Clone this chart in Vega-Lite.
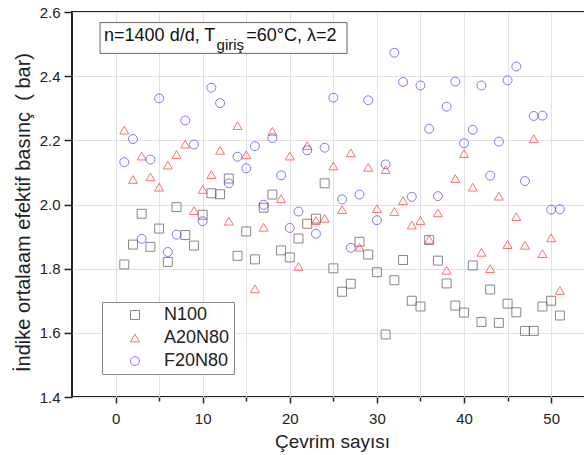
{
  "$schema": "https://vega.github.io/schema/vega-lite/v6.json",
  "autosize": "none",
  "padding": {"left": 72, "top": 12, "right": 0, "bottom": 58},
  "width": 514,
  "height": 385,
  "background": "white",
  "config": {
    "font": "Liberation Sans",
    "view": {"stroke": "#222222", "strokeWidth": 2},
    "axis": {"domain": false, "grid": true, "gridColor": "#e2e2e2", "gridWidth": 1, "tickColor": "#222222", "tickWidth": 1.5, "labelColor": "#222222", "titleColor": "#222222", "labelFont": "Liberation Sans", "titleFont": "Liberation Sans", "titleFontWeight": "normal"},
    "legend": {"orient": "none", "legendX": 30, "legendY": 290, "strokeColor": "#888888", "fillColor": "white", "padding": 4, "labelFontSize": 18, "labelFont": "Liberation Sans", "labelColor": "#222222", "symbolOffset": 20, "labelOffset": 20, "rowPadding": 5, "symbolSize": 80, "symbolStrokeWidth": 1}
  },
  "datasets": {
    "pts": [
      {"cycle":1,"series":"N100","value":1.813},{"cycle":2,"series":"N100","value":1.875},{"cycle":3,"series":"N100","value":1.971},{"cycle":4,"series":"N100","value":1.868},{"cycle":5,"series":"N100","value":1.925},{"cycle":6,"series":"N100","value":1.821},{"cycle":7,"series":"N100","value":1.992},{"cycle":8,"series":"N100","value":1.905},{"cycle":9,"series":"N100","value":1.872},{"cycle":10,"series":"N100","value":1.968},
      {"cycle":11,"series":"N100","value":2.035},{"cycle":12,"series":"N100","value":2.032},{"cycle":13,"series":"N100","value":2.081},{"cycle":14,"series":"N100","value":1.840},{"cycle":15,"series":"N100","value":1.916},{"cycle":16,"series":"N100","value":1.829},{"cycle":17,"series":"N100","value":1.990},{"cycle":18,"series":"N100","value":2.031},{"cycle":19,"series":"N100","value":1.857},{"cycle":20,"series":"N100","value":1.835},
      {"cycle":21,"series":"N100","value":1.894},{"cycle":22,"series":"N100","value":1.940},{"cycle":23,"series":"N100","value":1.956},{"cycle":24,"series":"N100","value":2.066},{"cycle":25,"series":"N100","value":1.801},{"cycle":26,"series":"N100","value":1.728},{"cycle":27,"series":"N100","value":1.753},{"cycle":28,"series":"N100","value":1.884},{"cycle":29,"series":"N100","value":1.844},{"cycle":30,"series":"N100","value":1.789},
      {"cycle":31,"series":"N100","value":1.595},{"cycle":32,"series":"N100","value":1.764},{"cycle":33,"series":"N100","value":1.827},{"cycle":34,"series":"N100","value":1.700},{"cycle":35,"series":"N100","value":1.682},{"cycle":36,"series":"N100","value":1.889},{"cycle":37,"series":"N100","value":1.825},{"cycle":38,"series":"N100","value":1.754},{"cycle":39,"series":"N100","value":1.685},{"cycle":40,"series":"N100","value":1.663},
      {"cycle":41,"series":"N100","value":1.810},{"cycle":42,"series":"N100","value":1.634},{"cycle":43,"series":"N100","value":1.735},{"cycle":44,"series":"N100","value":1.631},{"cycle":45,"series":"N100","value":1.691},{"cycle":46,"series":"N100","value":1.664},{"cycle":47,"series":"N100","value":1.606},{"cycle":48,"series":"N100","value":1.606},{"cycle":49,"series":"N100","value":1.682},{"cycle":50,"series":"N100","value":1.700},{"cycle":51,"series":"N100","value":1.654},
      {"cycle":1,"series":"A20N80","value":2.232},{"cycle":2,"series":"A20N80","value":2.078},{"cycle":3,"series":"A20N80","value":2.151},{"cycle":4,"series":"A20N80","value":2.086},{"cycle":5,"series":"A20N80","value":2.054},{"cycle":6,"series":"A20N80","value":2.123},{"cycle":7,"series":"A20N80","value":2.156},{"cycle":8,"series":"A20N80","value":2.188},{"cycle":9,"series":"A20N80","value":1.981},{"cycle":10,"series":"A20N80","value":2.047},
      {"cycle":11,"series":"A20N80","value":2.093},{"cycle":12,"series":"A20N80","value":2.169},{"cycle":13,"series":"A20N80","value":1.948},{"cycle":14,"series":"A20N80","value":2.246},{"cycle":15,"series":"A20N80","value":2.155},{"cycle":16,"series":"A20N80","value":1.737},{"cycle":17,"series":"A20N80","value":1.929},{"cycle":18,"series":"A20N80","value":2.228},{"cycle":19,"series":"A20N80","value":2.018},{"cycle":20,"series":"A20N80","value":2.151},
      {"cycle":21,"series":"A20N80","value":1.807},{"cycle":22,"series":"A20N80","value":2.184},{"cycle":23,"series":"A20N80","value":1.950},{"cycle":24,"series":"A20N80","value":1.957},{"cycle":25,"series":"A20N80","value":2.120},{"cycle":26,"series":"A20N80","value":1.984},{"cycle":27,"series":"A20N80","value":2.161},{"cycle":28,"series":"A20N80","value":1.867},{"cycle":29,"series":"A20N80","value":2.116},{"cycle":30,"series":"A20N80","value":1.987},
      {"cycle":31,"series":"A20N80","value":2.109},{"cycle":32,"series":"A20N80","value":1.978},{"cycle":33,"series":"A20N80","value":2.012},{"cycle":34,"series":"A20N80","value":1.936},{"cycle":35,"series":"A20N80","value":1.950},{"cycle":36,"series":"A20N80","value":1.891},{"cycle":37,"series":"A20N80","value":1.974},{"cycle":38,"series":"A20N80","value":1.795},{"cycle":39,"series":"A20N80","value":2.081},{"cycle":40,"series":"A20N80","value":2.159},
      {"cycle":41,"series":"A20N80","value":2.054},{"cycle":42,"series":"A20N80","value":1.851},{"cycle":43,"series":"A20N80","value":1.800},{"cycle":44,"series":"A20N80","value":2.026},{"cycle":45,"series":"A20N80","value":1.875},{"cycle":46,"series":"A20N80","value":1.962},{"cycle":47,"series":"A20N80","value":1.873},{"cycle":48,"series":"A20N80","value":2.205},{"cycle":49,"series":"A20N80","value":1.847},{"cycle":50,"series":"A20N80","value":1.896},{"cycle":51,"series":"A20N80","value":1.732},
      {"cycle":1,"series":"F20N80","value":2.132},{"cycle":2,"series":"F20N80","value":2.204},{"cycle":3,"series":"F20N80","value":1.893},{"cycle":4,"series":"F20N80","value":2.140},{"cycle":5,"series":"F20N80","value":2.331},{"cycle":6,"series":"F20N80","value":1.852},{"cycle":7,"series":"F20N80","value":1.906},{"cycle":8,"series":"F20N80","value":2.262},{"cycle":9,"series":"F20N80","value":2.187},{"cycle":10,"series":"F20N80","value":1.948},
      {"cycle":11,"series":"F20N80","value":2.364},{"cycle":12,"series":"F20N80","value":2.316},{"cycle":13,"series":"F20N80","value":2.066},{"cycle":14,"series":"F20N80","value":2.149},{"cycle":15,"series":"F20N80","value":2.113},{"cycle":16,"series":"F20N80","value":2.182},{"cycle":17,"series":"F20N80","value":1.999},{"cycle":18,"series":"F20N80","value":2.207},{"cycle":19,"series":"F20N80","value":2.091},{"cycle":20,"series":"F20N80","value":1.927},
      {"cycle":21,"series":"F20N80","value":1.978},{"cycle":22,"series":"F20N80","value":2.169},{"cycle":23,"series":"F20N80","value":1.909},{"cycle":24,"series":"F20N80","value":2.177},{"cycle":25,"series":"F20N80","value":2.333},{"cycle":26,"series":"F20N80","value":2.016},{"cycle":27,"series":"F20N80","value":1.865},{"cycle":28,"series":"F20N80","value":2.031},{"cycle":29,"series":"F20N80","value":2.325},{"cycle":30,"series":"F20N80","value":1.951},
      {"cycle":31,"series":"F20N80","value":2.125},{"cycle":32,"series":"F20N80","value":2.473},{"cycle":33,"series":"F20N80","value":2.382},{"cycle":34,"series":"F20N80","value":2.024},{"cycle":35,"series":"F20N80","value":2.371},{"cycle":36,"series":"F20N80","value":2.236},{"cycle":37,"series":"F20N80","value":2.026},{"cycle":38,"series":"F20N80","value":2.305},{"cycle":39,"series":"F20N80","value":2.383},{"cycle":40,"series":"F20N80","value":2.191},
      {"cycle":41,"series":"F20N80","value":2.233},{"cycle":42,"series":"F20N80","value":2.371},{"cycle":43,"series":"F20N80","value":2.090},{"cycle":44,"series":"F20N80","value":2.196},{"cycle":45,"series":"F20N80","value":2.387},{"cycle":46,"series":"F20N80","value":2.430},{"cycle":47,"series":"F20N80","value":2.073},{"cycle":48,"series":"F20N80","value":2.276},{"cycle":49,"series":"F20N80","value":2.277},{"cycle":50,"series":"F20N80","value":1.984},{"cycle":51,"series":"F20N80","value":1.985}
    ]
  },
  "layer": [
    {
      "data": {"name": "pts"},
      "mark": {"type": "point", "filled": false, "strokeWidth": 1, "size": 80},
      "encoding": {
        "x": {
          "field": "cycle", "type": "quantitative",
          "scale": {"domain": [-5, 54], "nice": false, "zero": false},
          "axis": {
            "title": "Çevrim sayısı", "titleFontSize": 19,
            "titleX": 260, "titleY": 35, "titleAlign": "center", "titleBaseline": "top",
            "values": [0, 5, 10, 15, 20, 25, 30, 35, 40, 45, 50],
            "labelExpr": "datum.value % 10 == 0 ? datum.label : ''",
            "labelFontSize": 15, "labelPadding": 8,
            "tickSize": {"condition": {"test": "datum.value % 10 == 0", "value": 6}, "value": 4}
          }
        },
        "y": {
          "field": "value", "type": "quantitative",
          "scale": {"domain": [1.4, 2.6], "nice": false, "zero": false},
          "axis": {
            "title": "İndike ortalaam efektif basınç\u00a0\u00a0(\u00a0bar)", "titleFontSize": 20,
            "titleX": -49, "titleY": 200, "titleAlign": "center", "titleBaseline": "middle", "titleAngle": -90,
            "values": [1.4, 1.5, 1.6, 1.7, 1.8, 1.9, 2.0, 2.1, 2.2, 2.3, 2.4, 2.5, 2.6],
            "labelExpr": "round(datum.value * 10) % 2 == 0 ? format(datum.value, '.1f') : ''",
            "labelFontSize": 15, "labelPadding": 4,
            "tickSize": {"condition": {"test": "round(datum.value * 10) % 2 == 0", "value": 8}, "value": 4}
          }
        },
        "color": {
          "field": "series", "type": "nominal",
          "scale": {"domain": ["N100", "A20N80", "F20N80"], "range": ["#555555", "#ff3333", "#4040ff"]},
          "legend": {"title": null}
        },
        "shape": {
          "field": "series", "type": "nominal",
          "scale": {"domain": ["N100", "A20N80", "F20N80"], "range": ["square", "triangle-up", "circle"]},
          "legend": {"title": null}
        }
      }
    },
    {
      "data": {"values": [{}]},
      "mark": {"type": "rect", "fill": "white", "stroke": "#666666", "strokeWidth": 1},
      "encoding": {
        "x": {"datum": -1.78, "type": "quantitative"}, "x2": {"datum": 26.57},
        "y": {"datum": 2.567, "type": "quantitative"}, "y2": {"datum": 2.471}
      }
    },
    {
      "data": {"values": [{}]},
      "mark": {"type": "text", "align": "left", "baseline": "alphabetic", "fontSize": 18, "color": "#111111"},
      "encoding": {"x": {"datum": -1.32, "type": "quantitative"}, "y": {"datum": 2.5095, "type": "quantitative"}, "text": {"value": "n=1400 d/d, T"}}
    },
    {
      "data": {"values": [{}]},
      "mark": {"type": "text", "align": "left", "baseline": "alphabetic", "fontSize": 15, "color": "#111111"},
      "encoding": {"x": {"datum": 11.6, "type": "quantitative"}, "y": {"datum": 2.4805, "type": "quantitative"}, "text": {"value": "giriş"}}
    },
    {
      "data": {"values": [{}]},
      "mark": {"type": "text", "align": "left", "baseline": "alphabetic", "fontSize": 18, "color": "#111111"},
      "encoding": {"x": {"datum": 15.0, "type": "quantitative"}, "y": {"datum": 2.5095, "type": "quantitative"}, "text": {"value": "=60°C, λ=2"}}
    }
  ]
}
